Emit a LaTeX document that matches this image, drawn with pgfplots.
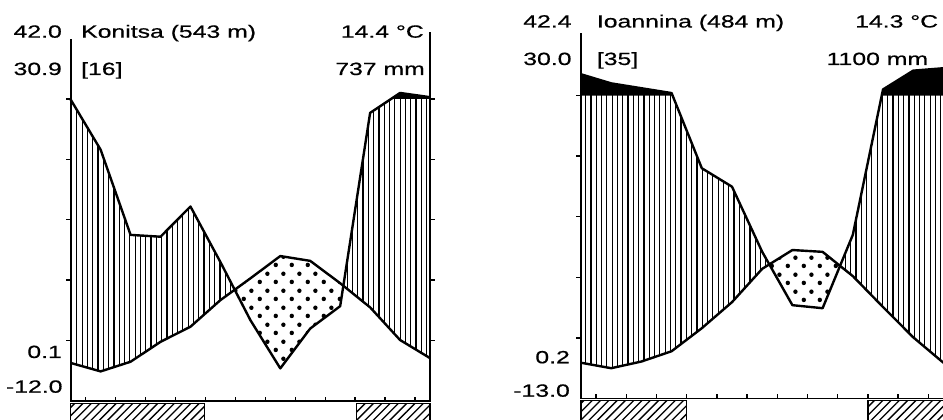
\documentclass[border=0pt]{standalone}
\usepackage{pgfplots}
\pgfplotsset{compat=1.18}
\usepackage{pgfplotstable}
\usepgfplotslibrary{fillbetween}
\usetikzlibrary{patterns}
\usepackage{fontspec}
\setmainfont[FakeStretch=1.4, FakeBold=0.6]{Liberation Sans}

\pgfdeclarepatternformonly{vlines}{\pgfpoint{0bp}{-1bp}}{\pgfpoint{5.3bp}{11bp}}{\pgfpoint{5.3bp}{10bp}}{%
  \pgfsetlinewidth{1.2bp}%
  \pgfpathmoveto{\pgfpoint{2.65bp}{-1bp}}%
  \pgfpathlineto{\pgfpoint{2.65bp}{11bp}}%
  \pgfusepath{stroke}}
\pgfdeclarepatternformonly{mydots}{\pgfpoint{0bp}{0bp}}{\pgfpoint{16bp}{16.6bp}}{\pgfpoint{16bp}{16.6bp}}{%
  \pgfpathcircle{\pgfpoint{4bp}{4.15bp}}{2.3bp}%
  \pgfpathcircle{\pgfpoint{12bp}{12.45bp}}{2.3bp}%
  \pgfusepath{fill}}
\pgfdeclarepatternformonly{frost}{\pgfpoint{-1bp}{-1bp}}{\pgfpoint{9.3bp}{9.3bp}}{\pgfpoint{8.3bp}{8.3bp}}{%
  \pgfsetlinewidth{1.3bp}%
  \pgfpathmoveto{\pgfpoint{0bp}{0bp}}%
  \pgfpathlineto{\pgfpoint{8.4bp}{8.4bp}}%
  \pgfusepath{stroke}}

% k = position (month), t = temperature (degC), p = precipitation on the
% temperature scale (10 degC = 20 mm; above 50 the compressed scale)
\pgfplotstableread{
k  t     p
0  6.3   49.9
1  4.9   41.6
2  6.5   27.5
3  9.8   27.2
4  12.3  32.2
5  16.7  23.0
6  20.3  13.4
7  24.0  5.4
8  23.2  12.0
9  19.5  15.7
10 15.5  47.7
11 10.1  51.0
12 7.1   50.3
}\konitsa

\pgfplotstableread{
k  t     p
0  5.9   53.5
1  5.0   52.0
2  6.1   51.2
3  7.8   50.4
4  11.6  38.0
5  15.9  34.95
6  21.4  24.2
7  24.5  15.4
8  24.2  14.9
9  20.2  27.0
10 15.1  51.0
11 10.1  54.1
12 5.9   54.5
}\ioannina

\pgfplotsset{wl/.style={scale only axis, xmin=0, xmax=12, ymin=-4, ymax=65,
  hide axis, clip=false, anchor=south west}}

\begin{document}
\begin{tikzpicture}

% ---------------- Konitsa ----------------
\begin{axis}[wl, at={(70.7bp,-5.16bp)}, width=359.3bp, height=416.76bp]
\addplot[draw=none, name path=P1] table[x=k,y=p]{\konitsa};
\addplot[draw=none, name path=T1] table[x=k,y=t]{\konitsa};
\addplot[draw=none, name path=L1] coordinates {(0,50) (12,50)};
\addplot[pattern=vlines, draw=none] fill between[of=P1 and T1, split,
   every segment no 1/.style={pattern=mydots}];
\addplot[fill=black, draw=none, fill opacity=0] fill between[of=P1 and L1, split,
   every segment no 1/.style={fill opacity=1}];
\addplot[line width=2.4bp, line join=round] table[x=k,y=p]{\konitsa};
\addplot[line width=2.4bp, line join=round] table[x=k,y=t]{\konitsa};
\draw[line width=1.8bp] (axis cs:0,59.9) -- (axis cs:0,0) -- (axis cs:12,0) -- (axis cs:12,61.1);
\draw[line width=1.4bp]
  (axis cs:0.5,0) -- (axis cs:0.5,0.7) (axis cs:1.5,0) -- (axis cs:1.5,0.7)
  (axis cs:2.5,0) -- (axis cs:2.5,0.7) (axis cs:3.5,0) -- (axis cs:3.5,0.7)
  (axis cs:4.5,0) -- (axis cs:4.5,0.7) (axis cs:5.5,0) -- (axis cs:5.5,0.7)
  (axis cs:6.5,0) -- (axis cs:6.5,0.7) (axis cs:7.5,0) -- (axis cs:7.5,0.7)
  (axis cs:8.5,0) -- (axis cs:8.5,0.7) (axis cs:9.5,0) -- (axis cs:9.5,0.7)
  (axis cs:10.5,0) -- (axis cs:10.5,0.7) (axis cs:11.5,0) -- (axis cs:11.5,0.7)
  (axis cs:0,10) -- (axis cs:-0.17,10) (axis cs:0,20) -- (axis cs:-0.17,20)
  (axis cs:0,30) -- (axis cs:-0.17,30) (axis cs:0,40) -- (axis cs:-0.17,40)
  (axis cs:0,50) -- (axis cs:-0.17,50)
  (axis cs:12,10) -- (axis cs:12.17,10) (axis cs:12,20) -- (axis cs:12.17,20)
  (axis cs:12,30) -- (axis cs:12.17,30) (axis cs:12,40) -- (axis cs:12.17,40)
  (axis cs:12,50) -- (axis cs:12.17,50);
\draw[line width=1.4bp, pattern=frost] (axis cs:0,-0.4) rectangle (axis cs:4.47,-4.5);
\draw[line width=1.4bp, pattern=frost] (axis cs:9.55,-0.4) rectangle (axis cs:12,-4.5);
\end{axis}

% ---------------- Ioannina ----------------
\begin{axis}[wl, at={(581bp,-2.74bp)}, width=362.4bp, height=418.14bp]
\addplot[draw=none, name path=P2] table[x=k,y=p]{\ioannina};
\addplot[draw=none, name path=T2] table[x=k,y=t]{\ioannina};
\addplot[draw=none, name path=L2] coordinates {(0,50) (12,50)};
\addplot[pattern=vlines, draw=none] fill between[of=P2 and T2, split,
   every segment no 1/.style={pattern=mydots}];
\addplot[fill=black, draw=none] fill between[of=P2 and L2, split,
   every segment no 1/.style={fill opacity=0}];
\addplot[line width=2.4bp, line join=round] table[x=k,y=p]{\ioannina};
\addplot[line width=2.4bp, line join=round] table[x=k,y=t]{\ioannina};
\draw[line width=1.8bp] (axis cs:0,60.3) -- (axis cs:0,0) -- (axis cs:12,0) -- (axis cs:12,61);
\draw[line width=1.4bp]
  (axis cs:0.5,0) -- (axis cs:0.5,0.7) (axis cs:1.5,0) -- (axis cs:1.5,0.7)
  (axis cs:2.5,0) -- (axis cs:2.5,0.7) (axis cs:3.5,0) -- (axis cs:3.5,0.7)
  (axis cs:4.5,0) -- (axis cs:4.5,0.7) (axis cs:5.5,0) -- (axis cs:5.5,0.7)
  (axis cs:6.5,0) -- (axis cs:6.5,0.7) (axis cs:7.5,0) -- (axis cs:7.5,0.7)
  (axis cs:8.5,0) -- (axis cs:8.5,0.7) (axis cs:9.5,0) -- (axis cs:9.5,0.7)
  (axis cs:10.5,0) -- (axis cs:10.5,0.7) (axis cs:11.5,0) -- (axis cs:11.5,0.7)
  (axis cs:0,10) -- (axis cs:-0.17,10) (axis cs:0,20) -- (axis cs:-0.17,20)
  (axis cs:0,30) -- (axis cs:-0.17,30) (axis cs:0,40) -- (axis cs:-0.17,40)
  (axis cs:0,50) -- (axis cs:-0.17,50);
\draw[line width=1.4bp, pattern=frost] (axis cs:0,-0.3) rectangle (axis cs:3.5,-4.5);
\draw[line width=1.4bp, pattern=frost] (axis cs:9.5,-0.3) rectangle (axis cs:12,-4.5);
\end{axis}

% ---------------- labels ----------------
\tikzset{lb/.style={inner sep=0pt, font=\fontsize{17.7bp}{20bp}\selectfont}}
\node[lb, anchor=base east] at (62bp,382.3bp) {42.0};
\node[lb, anchor=base east] at (62bp,345bp) {30.9};
\node[lb, anchor=base west] at (81bp,382.3bp) {Konitsa (543 m)};
\node[lb, anchor=base west] at (81bp,345bp) {[16]};
\node[lb, anchor=base east] at (424bp,382.3bp) {14.4 °C};
\node[lb, anchor=base east] at (425bp,345bp) {737 mm};
\node[lb, anchor=base east] at (62bp,62bp) {0.1};
\node[lb, anchor=base east] at (62.7bp,27.3bp) {-12.0};

\node[lb, anchor=base east] at (571.7bp,392.5bp) {42.4};
\node[lb, anchor=base east] at (571.7bp,355bp) {30.0};
\node[lb, anchor=base west] at (596.7bp,392.5bp) {Ioannina (484 m)};
\node[lb, anchor=base west] at (596.7bp,355bp) {[35]};
\node[lb, anchor=base east] at (938.3bp,392.5bp) {14.3 °C};
\node[lb, anchor=base east] at (928.3bp,355bp) {1100 mm};
\node[lb, anchor=base east] at (570bp,56.7bp) {0.2};
\node[lb, anchor=base east] at (570bp,23.3bp) {-13.0};

\pgfresetboundingbox
\useasboundingbox (0bp,0bp) rectangle (943bp,420bp);
\end{tikzpicture}
\end{document}
